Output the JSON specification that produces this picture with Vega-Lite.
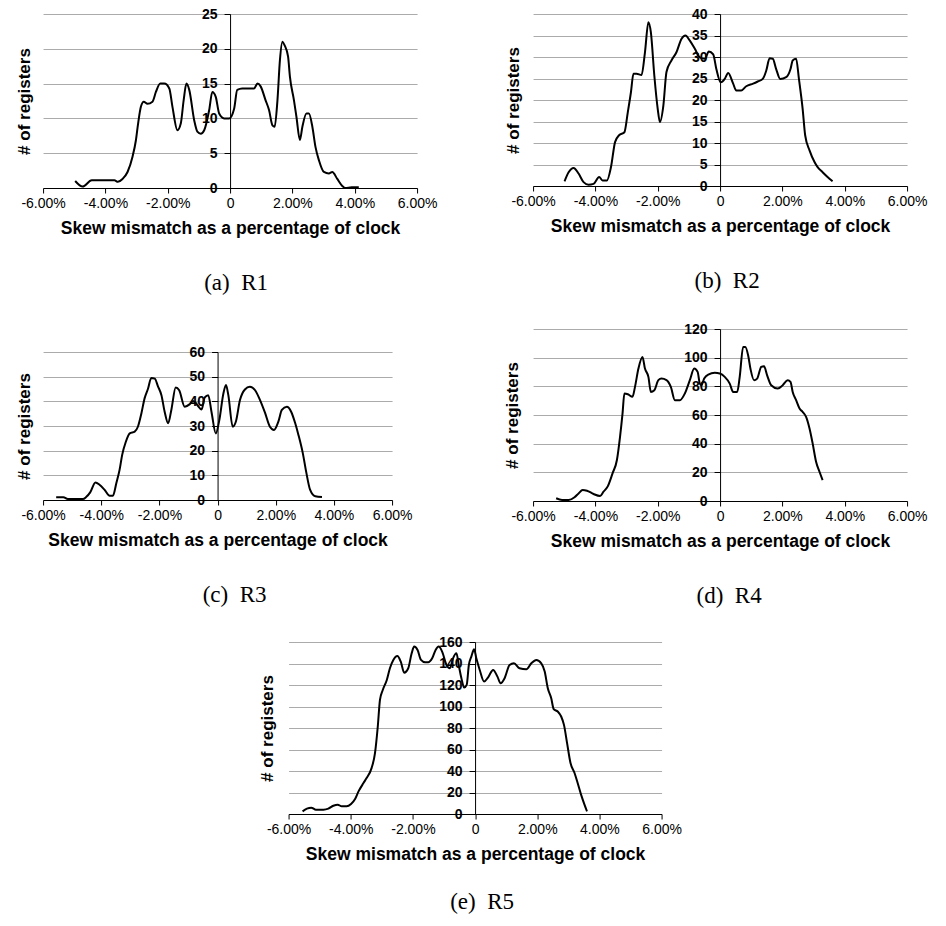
{
  "$schema": "https://vega.github.io/schema/vega-lite/v6.json",
  "background": "white",
  "padding": {"left": 15, "top": 7, "right": 5, "bottom": 5},
  "center": true,
  "spacing": 27,
  "config": {
    "view": {"stroke": null},
    "axisX": {
      "grid": false, "domainColor": "black", "domainWidth": 1, "tickColor": "black", "tickSize": 5,
      "labelFont": "Liberation Sans", "labelFontSize": 14, "labelColor": "black", "labelPadding": 3,
      "labelFlush": false, "labelOverlap": false,
      "titleFont": "Liberation Sans", "titleFontSize": 17.5, "titleFontWeight": "bold", "titleColor": "black", "titlePadding": 9,
      "labelExpr": "datum.value == 0 ? '0' : (datum.value < 0 ? '-' : '') + format(abs(datum.value), '.2f') + '%'"
    },
    "axisY": {
      "grid": true, "gridColor": "#ababab", "gridWidth": 1, "domainColor": "black", "domainWidth": 1,
      "tickColor": "black", "tickSize": 6,
      "labelFont": "Liberation Sans", "labelFontSize": 14, "labelFontWeight": "bold", "labelColor": "black", "labelPadding": 7,
      "labelOverlap": false, "labelFlush": false,
      "titleFont": "Liberation Sans", "titleFontSize": 17, "titleFontWeight": "bold", "titleColor": "black"
    },
    "title": {"font": "Liberation Serif", "fontSize": 23, "fontWeight": "normal", "color": "black", "orient": "bottom", "anchor": "middle", "frame": "group", "offset": 35}
  },
  "datasets": {
    "r1": [
      {"skew": -4.97, "registers": 1.0}, {"skew": -4.73, "registers": 0.2}, {"skew": -4.44, "registers": 1.1},
      {"skew": -3.71, "registers": 1.1}, {"skew": -3.6, "registers": 0.9}, {"skew": -3.45, "registers": 1.3},
      {"skew": -3.29, "registers": 2.3}, {"skew": -3.13, "registers": 4.5}, {"skew": -3.02, "registers": 6.9},
      {"skew": -2.95, "registers": 9.3}, {"skew": -2.86, "registers": 11.7}, {"skew": -2.77, "registers": 12.4},
      {"skew": -2.65, "registers": 12.1}, {"skew": -2.49, "registers": 12.4}, {"skew": -2.38, "registers": 13.8},
      {"skew": -2.24, "registers": 15.0}, {"skew": -2.11, "registers": 15.0}, {"skew": -1.95, "registers": 14.3},
      {"skew": -1.85, "registers": 11.7}, {"skew": -1.69, "registers": 8.3}, {"skew": -1.58, "registers": 9.3},
      {"skew": -1.49, "registers": 12.6}, {"skew": -1.4, "registers": 15.0}, {"skew": -1.31, "registers": 14.1},
      {"skew": -1.15, "registers": 9.7}, {"skew": -1.05, "registers": 8.1}, {"skew": -0.94, "registers": 7.8},
      {"skew": -0.83, "registers": 8.3}, {"skew": -0.67, "registers": 11.2}, {"skew": -0.57, "registers": 13.8},
      {"skew": -0.46, "registers": 13.1}, {"skew": -0.35, "registers": 10.7}, {"skew": -0.19, "registers": 10.0},
      {"skew": -0.03, "registers": 10.0}, {"skew": 0.13, "registers": 11.4}, {"skew": 0.23, "registers": 14.1},
      {"skew": 0.39, "registers": 14.3}, {"skew": 0.77, "registers": 14.3}, {"skew": 0.88, "registers": 15.0},
      {"skew": 0.98, "registers": 14.6}, {"skew": 1.14, "registers": 12.6}, {"skew": 1.25, "registers": 11.2},
      {"skew": 1.36, "registers": 9.0}, {"skew": 1.43, "registers": 8.8}, {"skew": 1.52, "registers": 12.6},
      {"skew": 1.6, "registers": 18.4}, {"skew": 1.68, "registers": 21.0}, {"skew": 1.75, "registers": 20.5},
      {"skew": 1.86, "registers": 18.9}, {"skew": 1.92, "registers": 16.0}, {"skew": 2.05, "registers": 12.6},
      {"skew": 2.13, "registers": 10.2}, {"skew": 2.24, "registers": 6.9}, {"skew": 2.32, "registers": 8.8},
      {"skew": 2.45, "registers": 10.7}, {"skew": 2.53, "registers": 10.7}, {"skew": 2.64, "registers": 8.8},
      {"skew": 2.74, "registers": 5.9}, {"skew": 2.85, "registers": 4.0}, {"skew": 3.01, "registers": 2.3},
      {"skew": 3.17, "registers": 2.1}, {"skew": 3.28, "registers": 2.3}, {"skew": 3.44, "registers": 1.3},
      {"skew": 3.6, "registers": 0.3}, {"skew": 3.7, "registers": 0.0}, {"skew": 3.9, "registers": 0.1},
      {"skew": 4.13, "registers": 0.1}
    ],
    "r2": [
      {"skew": -4.99, "registers": 1.1}, {"skew": -4.86, "registers": 3.2}, {"skew": -4.7, "registers": 4.2},
      {"skew": -4.54, "registers": 2.9}, {"skew": -4.38, "registers": 0.9}, {"skew": -4.22, "registers": 0.3},
      {"skew": -4.06, "registers": 0.5}, {"skew": -3.88, "registers": 2.1}, {"skew": -3.77, "registers": 1.3},
      {"skew": -3.63, "registers": 1.3}, {"skew": -3.5, "registers": 4.4}, {"skew": -3.37, "registers": 10.2},
      {"skew": -3.24, "registers": 11.8}, {"skew": -3.07, "registers": 12.5}, {"skew": -2.96, "registers": 17.2},
      {"skew": -2.86, "registers": 21.8}, {"skew": -2.78, "registers": 26.1}, {"skew": -2.68, "registers": 26.1},
      {"skew": -2.52, "registers": 25.8}, {"skew": -2.41, "registers": 31.1}, {"skew": -2.3, "registers": 38.1},
      {"skew": -2.22, "registers": 35.7}, {"skew": -2.11, "registers": 25.7}, {"skew": -2.0, "registers": 17.9},
      {"skew": -1.93, "registers": 14.9}, {"skew": -1.82, "registers": 18.7}, {"skew": -1.72, "registers": 26.5},
      {"skew": -1.56, "registers": 29.2}, {"skew": -1.4, "registers": 31.1}, {"skew": -1.24, "registers": 34.2},
      {"skew": -1.11, "registers": 35.0}, {"skew": -0.97, "registers": 33.8}, {"skew": -0.81, "registers": 31.9},
      {"skew": -0.65, "registers": 29.9}, {"skew": -0.49, "registers": 29.6}, {"skew": -0.36, "registers": 31.3},
      {"skew": -0.22, "registers": 30.6}, {"skew": -0.12, "registers": 27.2}, {"skew": 0.02, "registers": 24.1},
      {"skew": 0.15, "registers": 24.9}, {"skew": 0.26, "registers": 26.3}, {"skew": 0.42, "registers": 23.8},
      {"skew": 0.52, "registers": 22.2}, {"skew": 0.68, "registers": 22.2}, {"skew": 0.84, "registers": 23.2},
      {"skew": 1.06, "registers": 23.8}, {"skew": 1.21, "registers": 24.3}, {"skew": 1.37, "registers": 24.9},
      {"skew": 1.48, "registers": 26.8}, {"skew": 1.59, "registers": 29.7}, {"skew": 1.69, "registers": 29.6},
      {"skew": 1.8, "registers": 27.2}, {"skew": 1.93, "registers": 24.9}, {"skew": 2.12, "registers": 25.3},
      {"skew": 2.26, "registers": 27.2}, {"skew": 2.33, "registers": 29.2}, {"skew": 2.44, "registers": 29.6},
      {"skew": 2.53, "registers": 24.9}, {"skew": 2.65, "registers": 17.9}, {"skew": 2.73, "registers": 11.8},
      {"skew": 2.87, "registers": 8.3}, {"skew": 3.03, "registers": 5.6}, {"skew": 3.13, "registers": 4.4},
      {"skew": 3.29, "registers": 3.2}, {"skew": 3.51, "registers": 1.7}, {"skew": 3.61, "registers": 1.1}
    ],
    "r3": [
      {"skew": -5.55, "registers": 1.1}, {"skew": -5.3, "registers": 1.1}, {"skew": -5.15, "registers": 0.4},
      {"skew": -4.63, "registers": 0.4}, {"skew": -4.52, "registers": 1.2}, {"skew": -4.38, "registers": 3.1},
      {"skew": -4.2, "registers": 7.1}, {"skew": -4.06, "registers": 6.2}, {"skew": -3.89, "registers": 4.2},
      {"skew": -3.71, "registers": 1.7}, {"skew": -3.6, "registers": 1.7}, {"skew": -3.48, "registers": 6.9},
      {"skew": -3.37, "registers": 12.2}, {"skew": -3.28, "registers": 18.3}, {"skew": -3.16, "registers": 23.4},
      {"skew": -3.02, "registers": 27.0}, {"skew": -2.85, "registers": 27.7}, {"skew": -2.74, "registers": 29.7},
      {"skew": -2.62, "registers": 35.1}, {"skew": -2.51, "registers": 41.2}, {"skew": -2.39, "registers": 45.2},
      {"skew": -2.28, "registers": 49.5}, {"skew": -2.16, "registers": 49.2}, {"skew": -2.05, "registers": 46.1},
      {"skew": -1.93, "registers": 42.5}, {"skew": -1.82, "registers": 35.8}, {"skew": -1.7, "registers": 31.1},
      {"skew": -1.59, "registers": 36.5}, {"skew": -1.44, "registers": 45.6}, {"skew": -1.32, "registers": 44.5},
      {"skew": -1.13, "registers": 37.8}, {"skew": -0.95, "registers": 38.9}, {"skew": -0.84, "registers": 40.1},
      {"skew": -0.7, "registers": 38.5}, {"skew": -0.55, "registers": 36.7}, {"skew": -0.44, "registers": 41.6},
      {"skew": -0.32, "registers": 42.5}, {"skew": -0.21, "registers": 35.8}, {"skew": -0.06, "registers": 27.0},
      {"skew": 0.06, "registers": 32.4}, {"skew": 0.2, "registers": 43.2}, {"skew": 0.29, "registers": 46.6},
      {"skew": 0.37, "registers": 42.5}, {"skew": 0.52, "registers": 29.7}, {"skew": 0.63, "registers": 31.8},
      {"skew": 0.77, "registers": 40.5}, {"skew": 0.94, "registers": 44.8}, {"skew": 1.11, "registers": 45.9},
      {"skew": 1.29, "registers": 44.5}, {"skew": 1.46, "registers": 40.5}, {"skew": 1.63, "registers": 35.4},
      {"skew": 1.8, "registers": 29.7}, {"skew": 1.94, "registers": 28.4}, {"skew": 2.09, "registers": 31.8},
      {"skew": 2.21, "registers": 36.5}, {"skew": 2.38, "registers": 37.8}, {"skew": 2.53, "registers": 35.8},
      {"skew": 2.67, "registers": 31.1}, {"skew": 2.78, "registers": 26.4}, {"skew": 2.93, "registers": 19.0},
      {"skew": 3.05, "registers": 11.2}, {"skew": 3.18, "registers": 4.2}, {"skew": 3.36, "registers": 1.5},
      {"skew": 3.59, "registers": 1.2}
    ],
    "r4": [
      {"skew": -5.26, "registers": 1.9}, {"skew": -5.07, "registers": 0.7}, {"skew": -4.86, "registers": 0.7},
      {"skew": -4.67, "registers": 2.6}, {"skew": -4.54, "registers": 5.3}, {"skew": -4.41, "registers": 7.7},
      {"skew": -4.27, "registers": 7.2}, {"skew": -4.06, "registers": 4.9}, {"skew": -3.85, "registers": 3.5},
      {"skew": -3.74, "registers": 6.5}, {"skew": -3.6, "registers": 10.4}, {"skew": -3.45, "registers": 19.3},
      {"skew": -3.31, "registers": 28.6}, {"skew": -3.21, "registers": 44.8}, {"skew": -3.13, "registers": 61.0},
      {"skew": -3.07, "registers": 75.0}, {"skew": -2.96, "registers": 74.5}, {"skew": -2.81, "registers": 72.7},
      {"skew": -2.73, "registers": 79.6}, {"skew": -2.62, "registers": 92.4}, {"skew": -2.49, "registers": 100.5},
      {"skew": -2.41, "registers": 92.4}, {"skew": -2.3, "registers": 86.6}, {"skew": -2.22, "registers": 76.1},
      {"skew": -2.11, "registers": 77.3}, {"skew": -1.98, "registers": 84.3}, {"skew": -1.88, "registers": 85.4},
      {"skew": -1.72, "registers": 84.3}, {"skew": -1.58, "registers": 79.6}, {"skew": -1.45, "registers": 70.3},
      {"skew": -1.29, "registers": 70.3}, {"skew": -1.13, "registers": 75.0}, {"skew": -0.97, "registers": 84.3},
      {"skew": -0.83, "registers": 92.4}, {"skew": -0.72, "registers": 90.1}, {"skew": -0.65, "registers": 81.9},
      {"skew": -0.6, "registers": 80.8}, {"skew": -0.51, "registers": 85.4}, {"skew": -0.38, "registers": 88.2},
      {"skew": -0.17, "registers": 89.4}, {"skew": -0.01, "registers": 88.9}, {"skew": 0.15, "registers": 86.6},
      {"skew": 0.31, "registers": 81.9}, {"skew": 0.42, "registers": 76.1}, {"skew": 0.55, "registers": 76.1},
      {"skew": 0.63, "registers": 86.6}, {"skew": 0.74, "registers": 107.5}, {"skew": 0.81, "registers": 107.5},
      {"skew": 0.9, "registers": 101.7}, {"skew": 0.98, "registers": 91.7}, {"skew": 1.09, "registers": 84.3},
      {"skew": 1.19, "registers": 85.4}, {"skew": 1.32, "registers": 93.5}, {"skew": 1.41, "registers": 94.0},
      {"skew": 1.51, "registers": 87.7}, {"skew": 1.64, "registers": 80.8}, {"skew": 1.85, "registers": 78.5},
      {"skew": 2.01, "registers": 80.8}, {"skew": 2.17, "registers": 84.3}, {"skew": 2.26, "registers": 83.1},
      {"skew": 2.33, "registers": 76.1}, {"skew": 2.44, "registers": 70.3}, {"skew": 2.55, "registers": 64.5},
      {"skew": 2.65, "registers": 62.2}, {"skew": 2.76, "registers": 58.7}, {"skew": 2.87, "registers": 50.6},
      {"skew": 2.97, "registers": 40.2}, {"skew": 3.08, "registers": 27.4}, {"skew": 3.19, "registers": 20.4},
      {"skew": 3.29, "registers": 14.6}
    ],
    "r5": [
      {"skew": -5.55, "registers": 2.5}, {"skew": -5.41, "registers": 5.0}, {"skew": -5.27, "registers": 5.9},
      {"skew": -5.12, "registers": 4.0}, {"skew": -4.88, "registers": 4.0}, {"skew": -4.72, "registers": 5.0},
      {"skew": -4.56, "registers": 7.7}, {"skew": -4.42, "registers": 8.7}, {"skew": -4.29, "registers": 7.1},
      {"skew": -4.13, "registers": 7.1}, {"skew": -3.99, "registers": 9.3}, {"skew": -3.86, "registers": 13.9},
      {"skew": -3.75, "registers": 21.0}, {"skew": -3.59, "registers": 28.8}, {"skew": -3.49, "registers": 33.4},
      {"skew": -3.33, "registers": 42.7}, {"skew": -3.22, "registers": 56.6}, {"skew": -3.13, "registers": 81.4},
      {"skew": -3.06, "registers": 106.2}, {"skew": -2.97, "registers": 115.4}, {"skew": -2.84, "registers": 124.7},
      {"skew": -2.74, "registers": 135.6}, {"skew": -2.63, "registers": 143.3}, {"skew": -2.5, "registers": 147.0},
      {"skew": -2.39, "registers": 141.7}, {"skew": -2.28, "registers": 131.5}, {"skew": -2.15, "registers": 135.6},
      {"skew": -2.04, "registers": 149.5}, {"skew": -1.96, "registers": 155.7}, {"skew": -1.85, "registers": 152.6},
      {"skew": -1.74, "registers": 143.3}, {"skew": -1.61, "registers": 141.1}, {"skew": -1.51, "registers": 141.1},
      {"skew": -1.38, "registers": 144.8}, {"skew": -1.27, "registers": 152.6}, {"skew": -1.17, "registers": 155.7},
      {"skew": -1.06, "registers": 151.0}, {"skew": -0.92, "registers": 138.6}, {"skew": -0.81, "registers": 135.6},
      {"skew": -0.71, "registers": 144.8}, {"skew": -0.6, "registers": 149.5}, {"skew": -0.52, "registers": 137.7},
      {"skew": -0.44, "registers": 126.3}, {"skew": -0.35, "registers": 117.6}, {"skew": -0.27, "registers": 120.1},
      {"skew": -0.2, "registers": 138.6}, {"skew": -0.12, "registers": 146.4}, {"skew": -0.03, "registers": 153.2},
      {"skew": 0.04, "registers": 144.8}, {"skew": 0.15, "registers": 134.0}, {"skew": 0.29, "registers": 123.2},
      {"skew": 0.42, "registers": 127.2}, {"skew": 0.58, "registers": 134.0}, {"skew": 0.72, "registers": 127.8},
      {"skew": 0.82, "registers": 121.6}, {"skew": 0.95, "registers": 126.3}, {"skew": 1.11, "registers": 138.6},
      {"skew": 1.25, "registers": 140.2}, {"skew": 1.43, "registers": 135.6}, {"skew": 1.65, "registers": 134.6},
      {"skew": 1.81, "registers": 140.2}, {"skew": 1.97, "registers": 143.3}, {"skew": 2.13, "registers": 140.2},
      {"skew": 2.24, "registers": 132.5}, {"skew": 2.34, "registers": 117.0}, {"skew": 2.45, "registers": 107.7},
      {"skew": 2.53, "registers": 97.5}, {"skew": 2.66, "registers": 95.3}, {"skew": 2.77, "registers": 90.7},
      {"skew": 2.86, "registers": 82.9}, {"skew": 2.96, "registers": 65.9}, {"skew": 3.07, "registers": 47.4},
      {"skew": 3.2, "registers": 38.1}, {"skew": 3.3, "registers": 28.8}, {"skew": 3.41, "registers": 18.0},
      {"skew": 3.52, "registers": 8.7}, {"skew": 3.6, "registers": 2.5}
    ]
  },
  "vconcat": [
    {
      "spacing": 66,
      "hconcat": [
        {
          "spacing": 50,
          "vconcat": [
            {
              "width": 374, "height": 174,
              "data": {"name": "r1"},
              "title": {"text": "(a)\u00a0 R1", "dx": 6},
              "mark": {"type": "line", "interpolate": "monotone", "color": "black", "strokeWidth": 2},
              "encoding": {
                "x": {"field": "skew", "type": "quantitative", "scale": {"domain": [-6, 6], "nice": false}, "axis": {"title": "Skew mismatch as a percentage of clock", "values": [-6, -4, -2, 0, 2, 4, 6]}},
                "y": {"field": "registers", "type": "quantitative", "scale": {"domain": [0, 25], "nice": false}, "axis": {"title": "# of registers", "values": [0, 5, 10, 15, 20, 25], "offset": -187, "titleX": -197, "titleY": 87}}
              }
            },
            {
              "width": 349, "height": 148,
              "data": {"name": "r3"},
              "title": {"text": "(c)\u00a0 R3", "dx": 17},
              "mark": {"type": "line", "interpolate": "monotone", "color": "black", "strokeWidth": 2},
              "encoding": {
                "x": {"field": "skew", "type": "quantitative", "scale": {"domain": [-6, 6], "nice": false}, "axis": {"title": "Skew mismatch as a percentage of clock", "values": [-6, -4, -2, 0, 2, 4, 6]}},
                "y": {"field": "registers", "type": "quantitative", "scale": {"domain": [0, 60], "nice": false}, "axis": {"title": "# of registers", "values": [0, 10, 20, 30, 40, 50, 60], "offset": -174.5, "titleX": -184.5, "titleY": 74}}
              }
            }
          ]
        },
        {
          "spacing": 29,
          "vconcat": [
            {
              "width": 374, "height": 172,
              "data": {"name": "r2"},
              "title": {"text": "(b)\u00a0 R2", "dx": 7},
              "mark": {"type": "line", "interpolate": "monotone", "color": "black", "strokeWidth": 2},
              "encoding": {
                "x": {"field": "skew", "type": "quantitative", "scale": {"domain": [-6, 6], "nice": false}, "axis": {"title": "Skew mismatch as a percentage of clock", "values": [-6, -4, -2, 0, 2, 4, 6]}},
                "y": {"field": "registers", "type": "quantitative", "scale": {"domain": [0, 40], "nice": false}, "axis": {"title": "# of registers", "values": [0, 5, 10, 15, 20, 25, 30, 35, 40], "offset": -187, "titleX": -198, "titleY": 86}}
              }
            },
            {
              "width": 374, "height": 172,
              "data": {"name": "r4"},
              "title": {"text": "(d)\u00a0 R4", "dx": 9},
              "mark": {"type": "line", "interpolate": "monotone", "color": "black", "strokeWidth": 2},
              "encoding": {
                "x": {"field": "skew", "type": "quantitative", "scale": {"domain": [-6, 6], "nice": false}, "axis": {"title": "Skew mismatch as a percentage of clock", "values": [-6, -4, -2, 0, 2, 4, 6]}},
                "y": {"field": "registers", "type": "quantitative", "scale": {"domain": [0, 120], "nice": false}, "axis": {"title": "# of registers", "values": [0, 20, 40, 60, 80, 100, 120], "offset": -187, "titleX": -199, "titleY": 86}}
              }
            }
          ]
        }
      ]
    },
    {
      "width": 373, "height": 172,
      "data": {"name": "r5"},
      "title": {"text": "(e)\u00a0 R5", "dx": 7, "offset": 28},
      "mark": {"type": "line", "interpolate": "monotone", "color": "black", "strokeWidth": 2},
      "encoding": {
        "x": {"field": "skew", "type": "quantitative", "scale": {"domain": [-6, 6], "nice": false}, "axis": {"title": "Skew mismatch as a percentage of clock", "values": [-6, -4, -2, 0, 2, 4, 6]}},
        "y": {"field": "registers", "type": "quantitative", "scale": {"domain": [0, 160], "nice": false}, "axis": {"title": "# of registers", "values": [0, 20, 40, 60, 80, 100, 120, 140, 160], "offset": -186.5, "titleX": -199, "titleY": 86}}
      }
    }
  ]
}
